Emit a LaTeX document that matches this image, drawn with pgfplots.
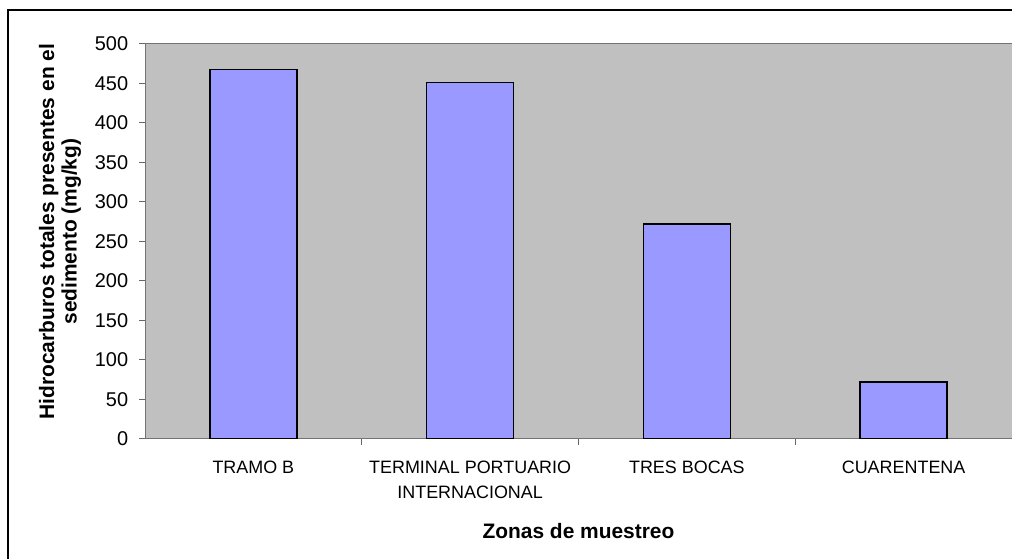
\documentclass[border=0pt]{standalone}
\usepackage{fontspec}
\setmainfont{Liberation Sans}
\usepackage{pgfplots}
\pgfplotsset{compat=1.18}
\definecolor{plotgray}{HTML}{C0C0C0}
\definecolor{barblue}{HTML}{9999FF}

\begin{document}
\begin{tikzpicture}
\useasboundingbox (0,0) rectangle (1012bp,559bp);
\clip (0,0) rectangle (1012bp,559bp);
\fill[white] (0,0) rectangle (1012bp,559bp);
% outer frame (cut at right and bottom like the source)
\draw[line width=1.2bp] (8bp,-20bp) rectangle (1040bp,549bp);
\begin{axis}[
  at={(145bp,120bp)},anchor=south west,
  scale only axis,width=867bp,height=395bp,
  axis background/.style={fill=plotgray},
  axis line style={draw=black!55,line width=1bp},
  xmin=0.5,xmax=4.5,ymin=0,ymax=500,
  ytick={0,50,...,500},
  xtick={1,2,3,4},
  xticklabels={TRAMO B,{TERMINAL PORTUARIO\\INTERNACIONAL},TRES BOCAS,CUARENTENA},
  minor xtick={1.5,2.5,3.5},
  tick align=outside,major tick length=6bp,minor tick length=6bp,
  xtick pos=bottom,ytick pos=left,
  major x tick style={draw=none},
  minor x tick style={draw=black!60,line width=1bp},
  y tick style={draw=black!60,line width=1bp},
  /pgf/number format/assume math mode=true,
  yticklabel style={font=\fontsize{20}{22}\selectfont,inner sep=0pt,anchor=east,xshift=-10.7bp},
  xticklabel style={font=\fontsize{18}{25.5}\selectfont,align=center,inner sep=0pt,anchor=north,yshift=-15.7bp},
  xlabel={Zonas de muestreo},
  xlabel style={font=\fontsize{21}{24}\selectfont\bfseries,inner sep=0pt,anchor=north,at={(axis description cs:0.5,-0.2119)}},
  ylabel={Hidrocarburos totales presentes en el\\sedimento (mg/kg)},
  ylabel style={font=\fontsize{21}{22.5}\selectfont\bfseries,align=center,inner sep=0pt,anchor=south,at={(axis description cs:-0.0735,0.525)}},
]
\addplot[ybar,bar width=87bp,fill=barblue,draw=black,line width=1.3bp] coordinates {(1,468) (2,451) (3,272) (4,72)};
\end{axis}
\end{tikzpicture}
\end{document}
